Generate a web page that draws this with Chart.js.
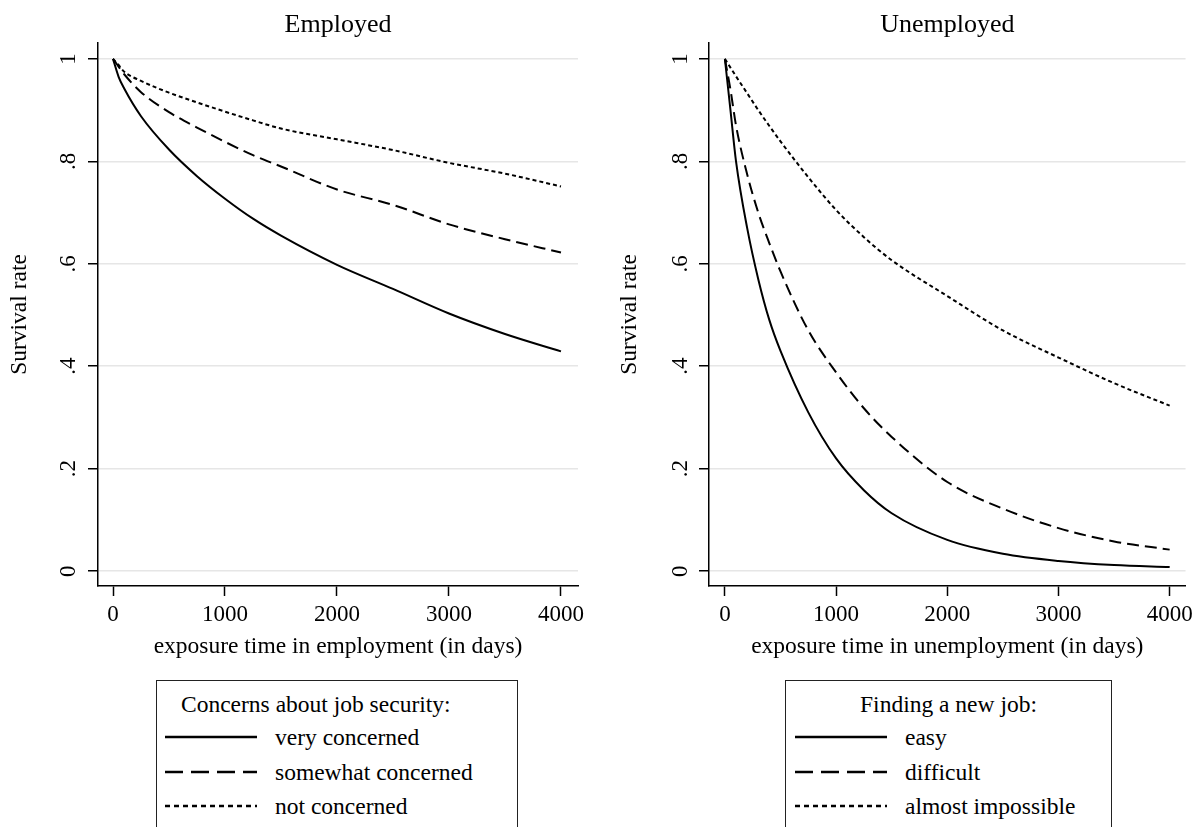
<!DOCTYPE html>
<html>
<head>
<meta charset="utf-8">
<script src="https://cdn.jsdelivr.net/npm/chart.js@4.4.0/dist/chart.umd.min.js"></script>
<style>
  body { margin: 0; background: #fff; }
  #wrap { position: relative; width: 1198px; height: 827px; overflow: hidden; font-family: "Liberation Serif", "Times New Roman", serif; }
  canvas { position: absolute; top: 0; }
  #cLeft { left: 0; }
  #cRight { left: 600px; }
  .legend { position: absolute; top: 680px; height: 220px; border: 1.5px solid #222; box-sizing: border-box; font-size: 23.5px; color: #000; }
  .legend .ttl { position: absolute; top: 9px; white-space: nowrap; line-height: 28px; }
  .legend .row { position: absolute; height: 28px; line-height: 28px; white-space: nowrap; }
  .legend .row svg { position: absolute; left: 0; top: 12px; }
  .legend .row span { position: absolute; left: 110px; top: 0; }
</style>
</head>
<body>
<div id="wrap">
  <canvas id="cLeft" width="600" height="670"></canvas>
  <canvas id="cRight" width="598" height="670"></canvas>
  <div class="legend" id="legLeft" style="left:156px; width:362px;"></div>
  <div class="legend" id="legRight" style="left:785px; width:327px;"></div>
</div>
<script>
// tick labels
const xTickValues = [0, 1000, 2000, 3000, 4000];
const yTickValues = [0, 0.2, 0.4, 0.6, 0.8, 1];
const yTickLabels = ['0', '.2', '.4', '.6', '.8', '1'];

// Employed panel (days, survival rate)
const empDays = [0, 50, 100, 250, 500, 750, 1000, 1250, 1500, 2000, 2500, 3000, 3500, 4000];
const empVery = [1, 0.965, 0.942, 0.888, 0.823, 0.771, 0.727, 0.688, 0.655, 0.598, 0.551, 0.503, 0.463, 0.429];
const empSomewhat = [1, 0.985, 0.970, 0.935, 0.896, 0.866, 0.838, 0.812, 0.790, 0.745, 0.715, 0.677, 0.648, 0.622];
const empNot = [1, 0.988, 0.975, 0.957, 0.934, 0.915, 0.897, 0.880, 0.864, 0.843, 0.822, 0.797, 0.776, 0.751];
const empLabels = ['very concerned', 'somewhat concerned', 'not concerned'];

// Unemployed panel
const unDays = [0, 50, 100, 200, 300, 400, 500, 750, 1000, 1250, 1500, 2000, 2500, 3000, 3500, 4000];
const unEasy = [1, 0.90, 0.80, 0.67, 0.57, 0.49, 0.43, 0.31, 0.22, 0.158, 0.113, 0.061, 0.034, 0.020, 0.012, 0.008];
const unDifficult = [1, 0.94, 0.87, 0.775, 0.70, 0.64, 0.585, 0.47, 0.388, 0.318, 0.262, 0.174, 0.122, 0.084, 0.058, 0.042];
const unImpossible = [1, 0.983, 0.966, 0.933, 0.900, 0.869, 0.839, 0.769, 0.705, 0.652, 0.607, 0.537, 0.470, 0.417, 0.367, 0.323];
const unLabels = ['easy', 'difficult', 'almost impossible'];

const dashes = [[], [12, 6], [4, 3]];
const legendDashes = ['', '18 8', '5 4'];
const FONT = '"Liberation Serif", "Times New Roman", serif';

function pairs(xs, ys) {
    return xs.map((x, i) => ({ x: x, y: ys[i] }));
}

// panel title centred over the plot region
const panelTitle = {
    id: 'panelTitle',
    afterDraw(chart, args, opts) {
        const ctx = chart.ctx;
        const area = chart.chartArea;
        ctx.save();
        ctx.font = '26px ' + FONT;
        ctx.fillStyle = '#000';
        ctx.textAlign = 'center';
        ctx.textBaseline = 'middle';
        ctx.fillText(opts.text, (area.left + area.right) / 2, 25);
        ctx.restore();
    }
};

// y tick labels are rotated like the original, drawn at the scale's own tick positions
const rotatedYTicks = {
    id: 'rotatedYTicks',
    afterDraw(chart, args, opts) {
        const scale = chart.scales.y;
        const ctx = chart.ctx;
        ctx.save();
        ctx.font = '23px ' + FONT;
        ctx.fillStyle = '#000';
        ctx.textAlign = 'center';
        ctx.textBaseline = 'middle';
        scale.ticks.forEach(t => {
            ctx.save();
            ctx.translate(opts.x, scale.getPixelForValue(t.value));
            ctx.rotate(-Math.PI / 2);
            ctx.fillText(t.label, 0, 0);
            ctx.restore();
        });
        ctx.restore();
    }
};

function makePanel(canvasId, cfg) {
    const series = cfg.series.map((ys, i) => ({
        label: cfg.labels[i],
        data: pairs(cfg.days, ys),
        borderColor: '#000',
        borderWidth: 2,
        borderDash: dashes[i],
        pointRadius: 0,
        fill: false,
        cubicInterpolationMode: 'monotone'
    }));

    return new Chart(document.getElementById(canvasId), {
        type: 'line',
        data: { datasets: series },
        options: {
            responsive: false,
            animation: false,
            layout: { padding: { left: 0, right: cfg.padRight, top: 43, bottom: 0 } },
            plugins: {
                legend: { display: false },
                tooltip: { enabled: false },
                title: { display: false },
                panelTitle: { text: cfg.title },
                rotatedYTicks: { x: cfg.yLabelX }
            },
            scales: {
                x: {
                    type: 'linear',
                    min: cfg.xMin,
                    max: cfg.xMax,
                    afterBuildTicks: s => { s.ticks = xTickValues.map(v => ({ value: v })); },
                    afterFit: s => { s.height = 84; },
                    ticks: {
                        color: '#000',
                        padding: 5,
                        maxRotation: 0,
                        font: { family: FONT, size: 23 },
                        callback: v => String(v)
                    },
                    grid: { drawOnChartArea: false, drawTicks: true, tickLength: 10, tickColor: '#000', tickWidth: 1.5 },
                    border: { display: true, color: '#000', width: 1.5 },
                    title: {
                        display: true,
                        text: cfg.xTitle,
                        color: '#000',
                        font: { family: FONT, size: 23.5 },
                        padding: { top: 0, bottom: 9 }
                    }
                },
                y: {
                    min: -0.029,
                    max: 1.031,
                    afterBuildTicks: s => { s.ticks = yTickValues.map(v => ({ value: v })); },
                    afterFit: s => { s.width = cfg.yWidth; },
                    ticks: {
                        display: false,
                        callback: v => yTickLabels[yTickValues.findIndex(t => Math.abs(t - v) < 1e-6)]
                    },
                    grid: { color: '#e6e6e6', lineWidth: 1.5, drawTicks: true, tickLength: 10, tickColor: '#000', tickWidth: 1.5 },
                    border: { display: true, color: '#000', width: 1.5 },
                    title: {
                        display: true,
                        text: 'Survival rate',
                        color: '#000',
                        font: { family: FONT, size: 23.5 },
                        padding: { top: cfg.yTitlePad, bottom: 0 }
                    }
                }
            }
        },
        plugins: [rotatedYTicks, panelTitle]
    });
}

makePanel('cLeft', {
    title: 'Employed',
    xTitle: 'exposure time in employment (in days)',
    days: empDays,
    series: [empVery, empSomewhat, empNot],
    labels: empLabels,
    xMin: -134, xMax: 4152,
    yWidth: 98, padRight: 22, yLabelX: 69, yTitlePad: 6
});

makePanel('cRight', {
    title: 'Unemployed',
    xTitle: 'exposure time in unemployment (in days)',
    days: unDays,
    series: [unEasy, unDifficult, unImpossible],
    labels: unLabels,
    xMin: -143, xMax: 4143,
    yWidth: 109, padRight: 10, yLabelX: 81, yTitlePad: 16
});

// legends below each panel
function buildLegend(id, title, labels, titleStyle, keyLeft) {
    const box = document.getElementById(id);
    let html = '<div class="ttl" style="' + titleStyle + '">' + title + '</div>';
    labels.forEach((lab, i) => {
        const dash = legendDashes[i] ? ' stroke-dasharray="' + legendDashes[i] + '"' : '';
        html += '<div class="row" style="left:' + keyLeft + 'px; top:' + (42 + i * 34.5) + 'px">' +
            '<svg width="94" height="4"><line x1="0" y1="2" x2="92" y2="2" stroke="#000" stroke-width="2.5"' + dash + '/></svg>' +
            '<span>' + lab + '</span></div>';
    });
    box.innerHTML = html;
}

buildLegend('legLeft', 'Concerns about job security:', empLabels, 'left:24px;', 8);
buildLegend('legRight', 'Finding a new job:', unLabels, 'left:0; right:0; text-align:center;', 9);
</script>
</body>
</html>
